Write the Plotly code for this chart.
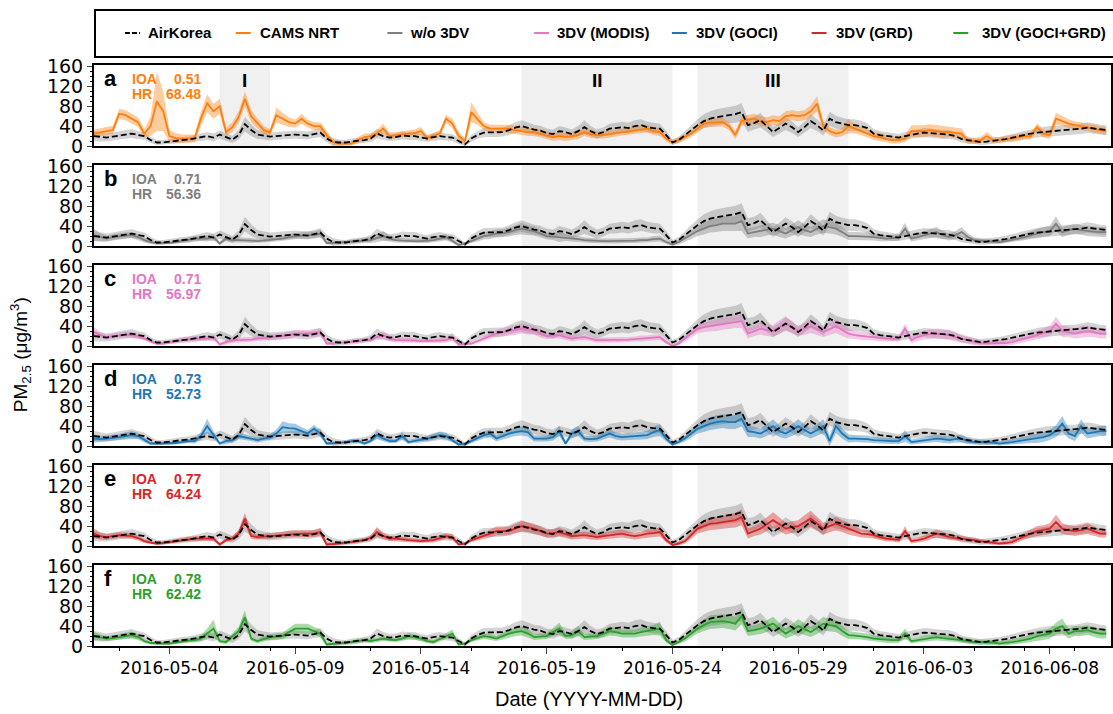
import pandas as pd
import plotly.graph_objects as go
from plotly.subplots import make_subplots

# ---------------- data (6-hourly, starting 2016-05-01 00:00) ----------------
start_time = "2016-05-01 00:00"
step = "6h"

airkorea = [20, 18, 17, 19, 21, 23, 25, 22,
            20, 12, 7, 7, 9, 11, 12, 13,
            15, 17, 20, 17, 23, 18, 13, 22,
            44, 32, 23, 21, 19, 20, 21, 22,
            23, 22, 21, 24, 27, 15, 8, 7,
            7, 9, 10, 12, 15, 25, 20, 17,
            18, 21, 20, 20, 17, 15, 18, 20,
            18, 17, 10, 3, 15, 22, 27, 27,
            27, 28, 32, 37, 40, 36, 33, 31,
            26, 24, 30, 28, 24, 30, 38, 30,
            24, 28, 35, 36, 38, 36, 40, 42,
            38, 36, 35, 22, 7, 12, 22, 32,
            42, 50, 55, 58, 60, 62, 64, 68,
            42, 46, 52, 40, 28, 36, 45, 38,
            28, 38, 50, 42, 31, 55, 48, 45,
            42, 42, 40, 36, 25, 22, 20, 18,
            17, 20, 23, 25, 27, 26, 24, 23,
            23, 20, 14, 12, 10, 8, 9, 10,
            12, 14, 17, 20, 22, 25, 27, 28,
            30, 30, 32, 33, 33, 35, 37, 35,
            33, 32]
airkorea_sd = [10, 9, 8, 8, 8, 8, 9, 8,
               7, 6, 5, 5, 5, 6, 6, 6,
               7, 7, 8, 8, 8, 8, 7, 9,
               15, 12, 9, 8, 8, 8, 8, 8,
               8, 8, 8, 8, 9, 8, 8, 6,
               5, 6, 6, 6, 7, 10, 8, 7,
               7, 8, 8, 8, 7, 7, 8, 8,
               7, 7, 6, 4, 7, 8, 9, 9,
               9, 9, 10, 11, 12, 11, 10, 10,
               9, 9, 10, 9, 9, 10, 14, 10,
               9, 9, 10, 11, 11, 11, 12, 12,
               11, 11, 10, 8, 5, 6, 8, 10,
               12, 14, 15, 16, 16, 16, 17, 18,
               14, 13, 15, 12, 10, 11, 13, 12,
               10, 11, 14, 12, 10, 14, 13, 12,
               12, 12, 11, 10, 9, 8, 8, 8,
               7, 8, 8, 9, 9, 9, 9, 9,
               9, 8, 7, 6, 6, 6, 6, 6,
               6, 7, 7, 8, 8, 9, 9, 10,
               10, 10, 10, 10, 10, 11, 11, 11,
               10, 10]

cams_nrt = [25, 28, 30, 32, 65, 62, 55, 48,
            25, 40, 90, 70, 20, 16, 15, 15,
            15, 55, 86, 70, 80, 28, 38, 58,
            95, 60, 45, 32, 28, 62, 55, 48,
            45, 55, 45, 40, 40, 22, 8, 5,
            5, 5, 12, 18, 20, 25, 35, 20,
            22, 24, 25, 26, 30, 16, 20, 25,
            55, 45, 20, 10, 68, 55, 40, 35,
            35, 36, 35, 32, 30, 28, 28, 25,
            22, 18, 20, 18, 20, 22, 28, 24,
            22, 22, 24, 26, 28, 30, 32, 34,
            35, 30, 28, 15, 8, 12, 18, 25,
            35, 45, 47, 48, 48, 40, 22, 50,
            52, 55, 50, 48, 52, 50, 60, 62,
            60, 62, 70, 85, 40, 30, 25, 28,
            40, 35, 30, 25, 20, 18, 14, 12,
            12, 15, 30, 30, 30, 32, 30, 28,
            28, 26, 25, 10, 10, 12, 20, 12,
            12, 14, 15, 18, 20, 20, 38, 25,
            22, 55, 50, 45, 42, 40, 38, 35,
            32, 30]
cams_nrt_sd = [8, 8, 8, 8, 10, 10, 10, 10,
               8, 20, 60, 40, 12, 10, 8, 8,
               8, 15, 18, 15, 15, 8, 10, 12,
               15, 12, 10, 8, 6, 15, 12, 10,
               8, 10, 8, 8, 8, 8, 6, 5,
               4, 4, 6, 7, 6, 7, 10, 7,
               6, 6, 6, 7, 8, 5, 6, 7,
               8, 10, 8, 6, 20, 12, 8, 8,
               8, 8, 8, 8, 8, 8, 8, 8,
               8, 8, 8, 8, 8, 8, 8, 8,
               7, 7, 7, 7, 7, 7, 8, 8,
               8, 8, 8, 6, 5, 6, 6, 7,
               8, 9, 9, 9, 9, 8, 8, 10,
               10, 10, 10, 10, 10, 10, 10, 10,
               10, 10, 12, 15, 10, 8, 8, 8,
               15, 10, 8, 8, 8, 8, 7, 7,
               7, 7, 12, 12, 12, 12, 12, 12,
               10, 10, 10, 6, 6, 6, 8, 6,
               6, 6, 7, 7, 7, 7, 8, 8,
               8, 12, 10, 9, 8, 8, 8, 8,
               8, 8]

wo_3dv = [22, 18, 15, 18, 20, 21, 22, 18,
          12, 8, 6, 6, 6, 8, 10, 12,
          15, 15, 15, 18, 5, 15, 12, 12,
          12, 11, 10, 11, 12, 14, 15, 18,
          20, 21, 22, 22, 25, 6, 6, 7,
          8, 9, 10, 12, 12, 16, 20, 15,
          12, 11, 10, 10, 10, 11, 12, 15,
          18, 10, 2, 5, 10, 15, 20, 22,
          25, 26, 28, 32, 35, 32, 30, 25,
          20, 19, 18, 17, 15, 14, 12, 11,
          10, 10, 10, 10, 10, 11, 11, 12,
          12, 14, 15, 8, 3, 8, 15, 22,
          30, 35, 40, 42, 45, 45, 45, 50,
          25, 28, 30, 33, 35, 30, 25, 32,
          38, 32, 28, 35, 40, 38, 35, 28,
          20, 20, 20, 19, 18, 16, 15, 16,
          18, 35, 15, 18, 22, 25, 28, 22,
          18, 22, 28, 18, 12, 11, 10, 9,
          8, 10, 12, 15, 18, 22, 25, 28,
          30, 45, 28, 32, 35, 32, 30, 29,
          28, 28]
wo_3dv_sd = [12, 8, 6, 6, 6, 6, 6, 6,
             5, 4, 3, 3, 3, 4, 4, 5,
             5, 5, 6, 6, 3, 5, 5, 5,
             5, 5, 4, 4, 4, 5, 5, 6,
             6, 6, 7, 7, 8, 3, 3, 3,
             3, 4, 4, 5, 6, 8, 10, 6,
             5, 5, 4, 4, 4, 5, 5, 6,
             6, 4, 2, 3, 4, 6, 7, 8,
             8, 8, 9, 10, 12, 10, 9, 8,
             7, 7, 10, 7, 6, 6, 5, 5,
             5, 5, 5, 5, 5, 5, 5, 5,
             5, 6, 6, 4, 3, 5, 6, 8,
             10, 12, 13, 14, 15, 15, 15, 20,
             10, 10, 12, 12, 12, 12, 10, 12,
             14, 12, 10, 12, 14, 13, 12, 10,
             8, 8, 8, 8, 7, 7, 6, 6,
             7, 12, 6, 7, 8, 9, 10, 8,
             7, 8, 10, 7, 5, 5, 4, 4,
             4, 4, 5, 6, 7, 8, 9, 10,
             10, 15, 10, 10, 10, 10, 10, 10,
             10, 10]

modis = [28, 22, 18, 20, 22, 23, 22, 20,
         15, 10, 5, 5, 8, 10, 12, 14,
         15, 15, 15, 18, 3, 8, 12, 12,
         12, 13, 15, 16, 18, 19, 20, 22,
         25, 25, 25, 26, 28, 5, 5, 6,
         8, 9, 10, 12, 12, 18, 22, 15,
         12, 12, 12, 11, 10, 10, 10, 11,
         12, 18, 3, 4, 5, 10, 15, 20,
         25, 28, 30, 32, 35, 33, 32, 25,
         20, 21, 22, 18, 15, 17, 18, 15,
         12, 12, 12, 12, 12, 13, 14, 15,
         15, 17, 18, 8, 0, 5, 15, 25,
         35, 38, 40, 42, 45, 46, 48, 50,
         25, 30, 35, 32, 30, 38, 45, 38,
         30, 35, 40, 34, 28, 34, 40, 32,
         25, 22, 20, 19, 18, 16, 15, 15,
         15, 35, 12, 18, 22, 24, 25, 24,
         22, 18, 15, 12, 8, 6, 5, 5,
         5, 6, 8, 12, 15, 18, 22, 26,
         30, 45, 30, 28, 25, 28, 30, 28,
         25, 25]
modis_sd = [10, 6, 5, 5, 6, 6, 6, 5,
            4, 3, 3, 3, 3, 4, 4, 5,
            5, 5, 5, 6, 3, 4, 5, 5,
            5, 5, 5, 5, 6, 6, 6, 7,
            7, 7, 7, 8, 8, 3, 3, 3,
            3, 3, 4, 4, 4, 6, 8, 6,
            5, 5, 5, 5, 4, 4, 4, 5,
            5, 8, 3, 3, 3, 4, 5, 6,
            7, 8, 9, 10, 10, 10, 9, 8,
            6, 6, 7, 6, 6, 6, 6, 5,
            5, 5, 5, 5, 5, 5, 5, 6,
            6, 6, 6, 4, 3, 4, 6, 8,
            10, 10, 11, 12, 12, 12, 12, 14,
            10, 10, 12, 12, 12, 14, 15, 12,
            10, 12, 14, 12, 10, 12, 14, 12,
            10, 8, 8, 8, 7, 7, 6, 6,
            6, 10, 6, 8, 9, 10, 10, 10,
            10, 9, 8, 8, 7, 6, 6, 6,
            6, 6, 6, 7, 8, 8, 9, 10,
            10, 14, 12, 10, 10, 12, 12, 10,
            10, 10]

goci = [15, 14, 15, 16, 18, 20, 22, 20,
        12, 5, 5, 5, 5, 6, 8, 10,
        10, 20, 40, 22, 5, 10, 12, 20,
        18, 15, 12, 15, 18, 25, 38, 36,
        35, 30, 25, 35, 25, 5, 5, 6,
        8, 10, 10, 5, 10, 22, 15, 10,
        10, 20, 8, 10, 12, 15, 18, 22,
        20, 12, 3, 4, 10, 15, 22, 25,
        15, 20, 25, 28, 30, 28, 15, 15,
        15, 18, 30, 5, 25, 30, 15, 14,
        15, 20, 25, 20, 18, 19, 20, 21,
        22, 28, 32, 15, 3, 8, 15, 25,
        35, 40, 45, 48, 50, 48, 48, 55,
        30, 28, 25, 32, 40, 30, 25, 32,
        40, 32, 25, 32, 40, 10, 40, 25,
        15, 15, 15, 14, 12, 11, 10, 10,
        10, 20, 8, 10, 12, 14, 15, 14,
        12, 14, 15, 10, 8, 8, 8, 7,
        5, 6, 8, 10, 12, 14, 15, 18,
        22, 30, 45, 25, 20, 40, 25, 28,
        30, 30]
goci_sd = [8, 6, 6, 6, 6, 7, 8, 6,
           5, 3, 3, 3, 3, 3, 4, 4,
           5, 8, 15, 8, 3, 5, 5, 6,
           6, 5, 5, 5, 6, 8, 12, 10,
           10, 8, 7, 8, 7, 3, 3, 3,
           3, 4, 4, 3, 4, 8, 6, 4,
           4, 8, 4, 4, 5, 5, 6, 7,
           7, 5, 2, 3, 4, 5, 7, 8,
           6, 7, 8, 8, 9, 9, 6, 6,
           6, 7, 10, 3, 8, 10, 6, 6,
           6, 7, 8, 7, 7, 7, 7, 8,
           8, 10, 12, 6, 3, 4, 6, 8,
           10, 12, 13, 14, 14, 14, 14, 16,
           12, 10, 10, 12, 14, 12, 10, 12,
           14, 12, 10, 12, 14, 10, 14, 10,
           8, 7, 7, 7, 6, 6, 6, 6,
           6, 12, 5, 5, 6, 7, 7, 7,
           7, 7, 8, 6, 5, 5, 5, 5,
           4, 5, 5, 6, 7, 8, 9, 10,
           10, 12, 16, 10, 10, 14, 10, 10,
           10, 10]

grd = [25, 20, 18, 20, 22, 21, 20, 16,
       10, 7, 5, 6, 8, 10, 12, 14,
       15, 15, 15, 15, 3, 12, 15, 25,
       55, 20, 18, 19, 20, 21, 22, 24,
       25, 25, 25, 25, 28, 3, 4, 5,
       6, 8, 10, 12, 16, 28, 20, 15,
       15, 13, 12, 11, 10, 11, 12, 16,
       20, 18, 3, 5, 12, 16, 20, 25,
       30, 30, 30, 35, 40, 38, 35, 30,
       25, 26, 28, 24, 20, 21, 22, 20,
       18, 20, 22, 24, 25, 22, 20, 22,
       25, 26, 28, 12, 2, 5, 10, 22,
       35, 40, 45, 46, 48, 50, 52, 58,
       25, 30, 35, 44, 52, 44, 35, 38,
       40, 48, 55, 45, 35, 40, 45, 40,
       35, 30, 25, 24, 22, 18, 15, 14,
       12, 30, 10, 12, 15, 20, 25, 22,
       18, 16, 15, 13, 12, 10, 8, 6,
       5, 6, 8, 14, 20, 25, 30, 32,
       35, 48, 35, 32, 30, 32, 35, 30,
       25, 25]
grd_sd = [10, 7, 6, 6, 6, 6, 6, 5,
          4, 3, 3, 3, 3, 4, 4, 5,
          5, 5, 5, 5, 3, 4, 5, 7,
          12, 6, 5, 5, 6, 6, 6, 7,
          7, 7, 7, 7, 8, 3, 3, 3,
          3, 3, 4, 4, 5, 10, 6, 5,
          5, 5, 4, 4, 4, 4, 5, 6,
          6, 6, 2, 3, 4, 5, 6, 8,
          9, 9, 9, 10, 11, 10, 10, 9,
          8, 8, 9, 8, 7, 7, 7, 7,
          6, 7, 7, 8, 8, 7, 7, 7,
          8, 8, 9, 5, 3, 4, 5, 8,
          10, 12, 13, 13, 14, 14, 15, 16,
          10, 10, 12, 14, 16, 14, 12, 12,
          12, 14, 16, 14, 12, 12, 14, 12,
          12, 10, 8, 8, 7, 6, 6, 5,
          5, 10, 5, 5, 6, 7, 8, 7,
          6, 6, 6, 5, 5, 4, 4, 4,
          3, 4, 5, 6, 7, 8, 10, 10,
          11, 15, 11, 10, 10, 10, 11, 10,
          8, 8]

goci_grd = [20, 17, 15, 16, 18, 20, 22, 18,
            10, 6, 5, 5, 5, 7, 10, 11,
            12, 15, 25, 35, 10, 8, 20, 30,
            58, 15, 10, 14, 18, 19, 20, 28,
            35, 35, 35, 30, 25, 3, 4, 5,
            6, 8, 10, 12, 10, 12, 15, 13,
            12, 15, 20, 18, 15, 10, 8, 14,
            20, 25, 3, 5, 12, 16, 20, 18,
            15, 20, 25, 28, 30, 25, 18, 19,
            20, 28, 35, 20, 22, 30, 18, 19,
            20, 25, 30, 28, 25, 25, 25, 28,
            30, 32, 35, 12, 2, 8, 15, 25,
            35, 42, 48, 49, 50, 48, 45, 60,
            30, 32, 35, 40, 45, 35, 25, 32,
            40, 34, 28, 36, 45, 42, 40, 30,
            22, 21, 20, 18, 15, 14, 12, 12,
            12, 25, 10, 12, 15, 16, 18, 16,
            15, 14, 12, 10, 8, 8, 8, 7,
            5, 6, 8, 10, 12, 15, 20, 22,
            25, 35, 40, 25, 30, 30, 32, 28,
            25, 25]
goci_grd_sd = [8, 6, 5, 5, 6, 6, 7, 6,
               4, 3, 3, 3, 3, 3, 4, 4,
               5, 6, 10, 18, 4, 4, 6, 8,
               14, 5, 4, 5, 6, 6, 6, 8,
               10, 10, 10, 8, 8, 3, 3, 3,
               3, 3, 4, 4, 4, 4, 5, 4,
               4, 5, 6, 5, 5, 4, 4, 5,
               6, 8, 2, 3, 4, 5, 6, 6,
               5, 6, 8, 8, 9, 8, 6, 6,
               6, 8, 12, 6, 7, 10, 6, 6,
               6, 8, 9, 8, 8, 8, 8, 9,
               9, 10, 14, 5, 3, 4, 6, 8,
               10, 12, 14, 14, 14, 14, 14, 16,
               10, 10, 11, 12, 14, 12, 10, 12,
               14, 12, 10, 12, 14, 13, 12, 10,
               8, 7, 7, 7, 6, 6, 6, 6,
               6, 10, 5, 5, 6, 6, 7, 6,
               6, 6, 6, 5, 5, 5, 5, 5,
               4, 5, 5, 6, 7, 8, 10, 10,
               10, 12, 15, 10, 10, 10, 10, 10,
               10, 10]

model_names = ["CAMS NRT", "w/o 3DV", "3DV (MODIS)", "3DV (GOCI)", "3DV (GRD)", "3DV (GOCI+GRD)"]
model_values = [cams_nrt, wo_3dv, modis, goci, grd, goci_grd]
model_spreads = [cams_nrt_sd, wo_3dv_sd, modis_sd, goci_sd, grd_sd, goci_grd_sd]
model_colors = ["#ff7f0e", "#7f7f7f", "#e377c2", "#1f77b4", "#d62728", "#2ca02c"]
band_colors = ["rgba(255,127,14,0.40)", "rgba(127,127,127,0.40)", "rgba(227,119,194,0.40)",
               "rgba(31,119,180,0.40)", "rgba(214,39,40,0.40)", "rgba(44,160,44,0.40)"]
panel_letters = ["a", "b", "c", "d", "e", "f"]
ioa_values = ["0.51", "0.71", "0.71", "0.73", "0.77", "0.78"]
hr_values = ["68.48", "56.36", "56.97", "52.73", "64.24", "62.42"]
episodes = [("I", "2016-05-06", "2016-05-08"),
            ("II", "2016-05-18", "2016-05-24"),
            ("III", "2016-05-25", "2016-05-31")]
x_range = ["2016-05-01 00:00", "2016-06-10 10:30"]
y_ticks = [0, 40, 80, 120, 160]

# ---------------- layout geometry ----------------
W, H = 1113, 714
ML, MR, MT, MB = 94, 0, 65, 68
PW = W - ML - MR
PH = H - MT - MB


def xp(px):
    return (px - ML) / PW


def yp(py):
    return (H - MB - py) / PH


times = pd.date_range(start_time, periods=len(airkorea), freq=step)
tlist = list(times)

fig = make_subplots(rows=6, cols=1, shared_xaxes=True, vertical_spacing=19 / PH)


def band(values, spreads):
    upper = [v + s for v, s in zip(values, spreads)]
    lower = [max(v - s, 0) for v, s in zip(values, spreads)]
    return tlist + tlist[::-1], upper + lower[::-1]


obs_bx, obs_by = band(airkorea, airkorea_sd)

for i in range(6):
    r = i + 1
    bx, by = band(model_values[i], model_spreads[i])
    fig.add_trace(go.Scatter(x=obs_bx, y=obs_by, fill="toself", fillcolor="rgba(0,0,0,0.17)",
                             line=dict(width=0), mode="lines", hoverinfo="skip", showlegend=False),
                  row=r, col=1)
    fig.add_trace(go.Scatter(x=bx, y=by, fill="toself", fillcolor=band_colors[i],
                             line=dict(width=0), mode="lines", hoverinfo="skip", showlegend=False),
                  row=r, col=1)
    fig.add_trace(go.Scatter(x=tlist, y=model_values[i], mode="lines", name=model_names[i],
                             line=dict(color=model_colors[i], width=1.8), showlegend=False),
                  row=r, col=1)
    fig.add_trace(go.Scatter(x=tlist, y=airkorea, mode="lines", name="AirKorea",
                             line=dict(color="black", width=1.8, dash="6px,3px"), showlegend=False),
                  row=r, col=1)

    sfx = "" if r == 1 else str(r)
    for name, e0, e1 in episodes:
        fig.add_shape(type="rect", xref="x" + sfx, yref="y" + sfx + " domain",
                      x0=e0, x1=e1, y0=0, y1=1, fillcolor="#f0f0f0", line=dict(width=0),
                      layer="below")

    fig.add_annotation(xref="x" + sfx + " domain", yref="y" + sfx + " domain",
                       x=xp(102), y=0.83, xanchor="left", yanchor="middle",
                       text="<b>" + panel_letters[i] + "</b>", showarrow=False,
                       font=dict(family="Liberation Sans, Arial", size=22, color="black"))
    for lab, val, yy in (("IOA", ioa_values[i], 0.83), ("HR", hr_values[i], 0.64)):
        fig.add_annotation(xref="x" + sfx + " domain", yref="y" + sfx + " domain",
                           x=xp(130), y=yy, xanchor="left", yanchor="middle",
                           text="<b>" + lab + "</b>", showarrow=False,
                           font=dict(family="Liberation Sans, Arial", size=14, color=model_colors[i]))
        fig.add_annotation(xref="x" + sfx + " domain", yref="y" + sfx + " domain",
                           x=xp(203), y=yy, xanchor="right", yanchor="middle",
                           text="<b>" + val + "</b>", showarrow=False,
                           font=dict(family="Liberation Sans, Arial", size=14, color=model_colors[i]))

    fig.update_yaxes(row=r, col=1, range=[0, 163], tickvals=y_ticks, ticks="outside", ticklen=5,
                     tickwidth=1.2, showline=True, linewidth=2, linecolor="black", mirror=True,
                     showgrid=False, zeroline=False,
                     minor=dict(dtick=10, ticks="outside", ticklen=2.5, tickcolor="black"),
                     tickfont=dict(family="DejaVu Sans", size=19, color="black"))
    fig.update_xaxes(row=r, col=1, range=x_range, showline=True, linewidth=2, linecolor="black",
                     mirror=True, showgrid=False, zeroline=False,
                     ticks="outside" if r == 6 else "", showticklabels=(r == 6),
                     tick0="2016-05-04", dtick=5 * 86400000, tickformat="%Y-%m-%d", ticklen=6,
                     tickwidth=1.2,
                     minor=dict(dtick=2 * 86400000, tick0="2016-05-02",
                                ticks="outside" if r == 6 else "", ticklen=3, tickcolor="black"),
                     tickfont=dict(family="DejaVu Sans", size=17, color="black"))

# episode labels in panel a
for name, e0, e1 in episodes:
    mid = pd.Timestamp(e0) + (pd.Timestamp(e1) - pd.Timestamp(e0)) / 2
    fig.add_annotation(xref="x", yref="y domain", x=mid, y=0.81, xanchor="center", yanchor="middle",
                       text="<b>" + name + "</b>", showarrow=False,
                       font=dict(family="Liberation Sans, Arial", size=19, color="black"))

# manual legend box
fig.add_shape(type="rect", xref="paper", yref="paper", x0=xp(95), x1=1.02, y0=yp(57), y1=yp(10),
              line=dict(color="black", width=2), fillcolor="white")
legend_items = [("AirKorea", "black", 125, 146, True)] + [
    (model_names[k], model_colors[k], px0, tx, False)
    for k, (px0, tx) in enumerate([(236, 258), (388, 409), (535, 556), (673, 695), (813, 835), (955, 982)])]
for name, col, lx, tx, dashed in legend_items:
    fig.add_shape(type="line", xref="paper", yref="paper", x0=xp(lx), x1=xp(lx + 15),
                  y0=yp(33), y1=yp(33),
                  line=dict(color=col, width=2, dash="5px,2px" if dashed else "solid"))
    fig.add_annotation(xref="paper", yref="paper", x=xp(tx), y=yp(33), xanchor="left", yanchor="middle",
                       text="<b>" + name + "</b>", showarrow=False,
                       font=dict(family="Liberation Sans, Arial", size=15, color="black"))

# axis titles
fig.add_annotation(xref="paper", yref="paper", x=xp(20), y=yp(355), xanchor="center", yanchor="middle",
                   textangle=-90, text="PM<sub>2.5</sub> (μg/m<sup>3</sup>)", showarrow=False,
                   font=dict(family="Liberation Sans, Arial", size=19, color="black"))
fig.add_annotation(xref="paper", yref="paper", x=xp(590), y=yp(699), xanchor="center", yanchor="middle",
                   text="Date (YYYY-MM-DD)", showarrow=False,
                   font=dict(family="Liberation Sans, Arial", size=20, color="black"))

fig.update_layout(width=W, height=H, margin=dict(l=ML, r=MR, t=MT, b=MB),
                  plot_bgcolor="white", paper_bgcolor="white", showlegend=False,
                  font=dict(family="DejaVu Sans", size=15, color="black"))

fig.write_html("out.html", config={"displayModeBar": False},
               post_script="document.body.style.margin='0';document.body.style.overflow='hidden';")
